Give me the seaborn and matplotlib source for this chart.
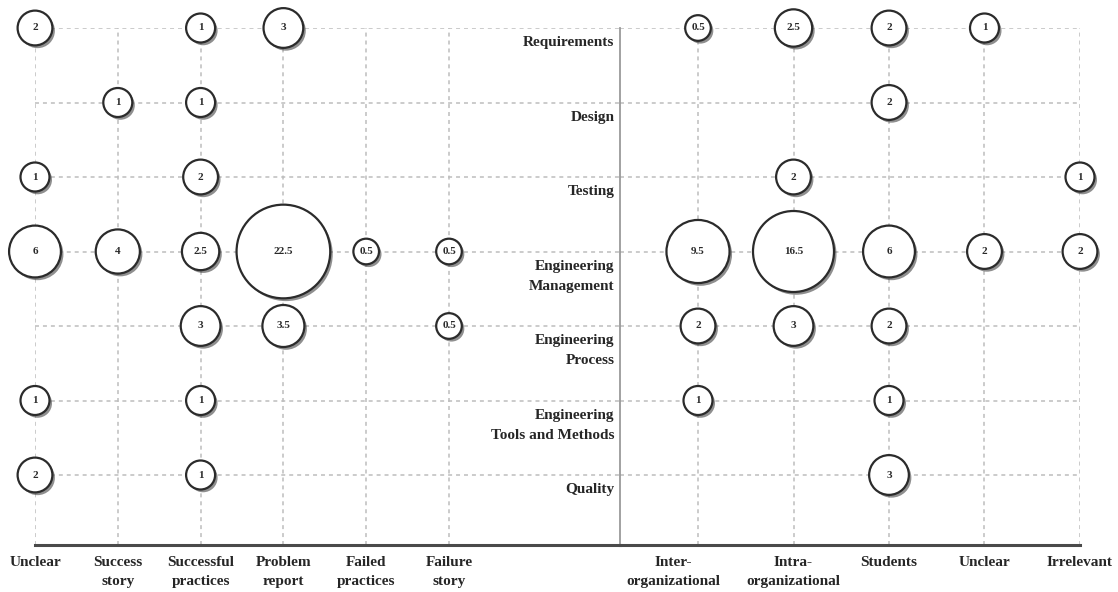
"""Bubble chart of research topics by evidence type and study context."""

import matplotlib

matplotlib.use("Agg")

import matplotlib.patheffects as pe
import matplotlib.pyplot as plt
import matplotlib.transforms as mtransforms
import pandas as pd
import seaborn as sns

TOPICS = [
    "Requirements",
    "Design",
    "Testing",
    "Engineering\nManagement",
    "Engineering\nProcess",
    "Engineering\nTools and Methods",
    "Quality",
]
LEFT_CATS = ["Unclear", "Success\nstory", "Successful\npractices", "Problem\nreport",
             "Failed\npractices", "Failure\nstory"]
RIGHT_CATS = ["Inter-\norganizational", "Intra-\norganizational", "Students", "Unclear", "Irrelevant"]

# left panel: (topic index, category index, value)
left_topic = [0, 0, 0, 1, 1, 2, 2, 3, 3, 3, 3, 3, 3, 4, 4, 4, 5, 5, 6, 6]
left_cat = [0, 2, 3, 1, 2, 0, 2, 0, 1, 2, 3, 4, 5, 2, 3, 5, 0, 2, 0, 2]
left_value = [2, 1, 3, 1, 1, 1, 2, 6, 4, 2.5, 22.5, 0.5, 0.5, 3, 3.5, 0.5, 1, 1, 2, 1]

right_topic = [0, 0, 0, 0, 1, 2, 2, 3, 3, 3, 3, 3, 4, 4, 4, 5, 5, 6]
right_cat = [0, 1, 2, 3, 2, 1, 4, 0, 1, 2, 3, 4, 0, 1, 2, 0, 2, 2]
right_value = [0.5, 2.5, 2, 1, 2, 2, 1, 9.5, 16.5, 6, 2, 2, 2, 3, 2, 1, 1, 3]

W, H = 1118, 592
TOP, BOTTOM = 28, 545
LAST_ROW = 475
X_LEFT0, X_DIV, X_RIGHT1 = 35, 620, 1080
LEFT_STEP = (449 - 35) / 5
RIGHT_STEP = (1080 - 698) / 4

SIZE_NORM = (0.5, 22.5)
SIZES = (340, 4550)

sns.set_theme(style="white")
plt.rcParams["font.family"] = ["Liberation Serif", "DejaVu Serif"]

fig = plt.figure(figsize=(W / 100, H / 100), dpi=100)
ax_l = fig.add_axes([X_LEFT0 / W, 1 - BOTTOM / H, (X_DIV - X_LEFT0) / W, (BOTTOM - TOP) / H])
ax_r = fig.add_axes([X_DIV / W, 1 - BOTTOM / H, (X_RIGHT1 - X_DIV) / W, (BOTTOM - TOP) / H])

n_rows = len(TOPICS)
y_bottom = (n_rows - 1) + (BOTTOM - LAST_ROW) / ((LAST_ROW - TOP) / (n_rows - 1))

grid_kw = dict(color="#bdbdbd", linestyle=(0, (2.6, 2.6)), linewidth=1.1, zorder=0)
shadow = [pe.SimplePatchShadow(offset=(1.8, -2.0), shadow_rgbFace="#444444", alpha=0.6), pe.Normal()]


def draw_panel(ax, topics, cats, values, labels, x_lo, x_hi):
    df = pd.DataFrame({"topic": topics, "cat": cats, "value": values})
    ax.set_xlim(x_lo, x_hi)
    ax.set_ylim(y_bottom, 0)
    for i in range(len(TOPICS)):
        ax.axhline(i, **grid_kw)
    for j in range(len(labels)):
        ax.axvline(j, **grid_kw)
    sns.scatterplot(
        data=df, x="cat", y="topic", size="value", sizes=SIZES, size_norm=SIZE_NORM,
        color="white", edgecolor="#2b2b2b", linewidth=1.6, legend=False,
        clip_on=False, zorder=3, ax=ax,
    )
    ax.collections[-1].set_path_effects(shadow)
    for _, row in df.iterrows():
        ax.text(row["cat"], row["topic"], f"{row['value']:g}", ha="center", va="center",
                fontsize=8, fontweight="bold", color="#2a2a2a", zorder=4)
    ax.set_xticks(range(len(labels)))
    ax.set_xticklabels(labels, fontsize=11, fontweight="bold", color="#262626", va="top",
                       linespacing=1.6)
    ax.tick_params(axis="x", length=0, pad=8)
    ax.set_yticks([])
    ax.set_xlabel("")
    ax.set_ylabel("")
    for side in ["top", "left", "right"]:
        ax.spines[side].set_visible(False)
    ax.spines["bottom"].set_color("#4a4a4a")
    ax.spines["bottom"].set_linewidth(2.2)
    ax.patch.set_alpha(0)


draw_panel(ax_l, left_topic, left_cat, left_value, LEFT_CATS, 0, (X_DIV - X_LEFT0) / LEFT_STEP)
draw_panel(ax_r, right_topic, right_cat, right_value, RIGHT_CATS, -(698 - X_DIV) / RIGHT_STEP, 4)

# the first right-hand label sits a little to the left so it clears its neighbour
first = ax_r.get_xticklabels()[0]
first.set_transform(first.get_transform() + mtransforms.ScaledTranslation(-0.25, 0, fig.dpi_scale_trans))

# divider between the two panels
ax_r.spines["left"].set_visible(True)
ax_r.spines["left"].set_color("#9a9a9a")
ax_r.spines["left"].set_linewidth(1.3)

for i, topic in enumerate(TOPICS):
    ax_l.annotate(topic, xy=(1, i), xycoords=("axes fraction", "data"), xytext=(-4, -6),
                  textcoords="offset points", ha="right", va="top", fontsize=11,
                  fontweight="bold", color="#262626", linespacing=1.7)

fig.savefig("out.png", dpi=100, facecolor="white")
